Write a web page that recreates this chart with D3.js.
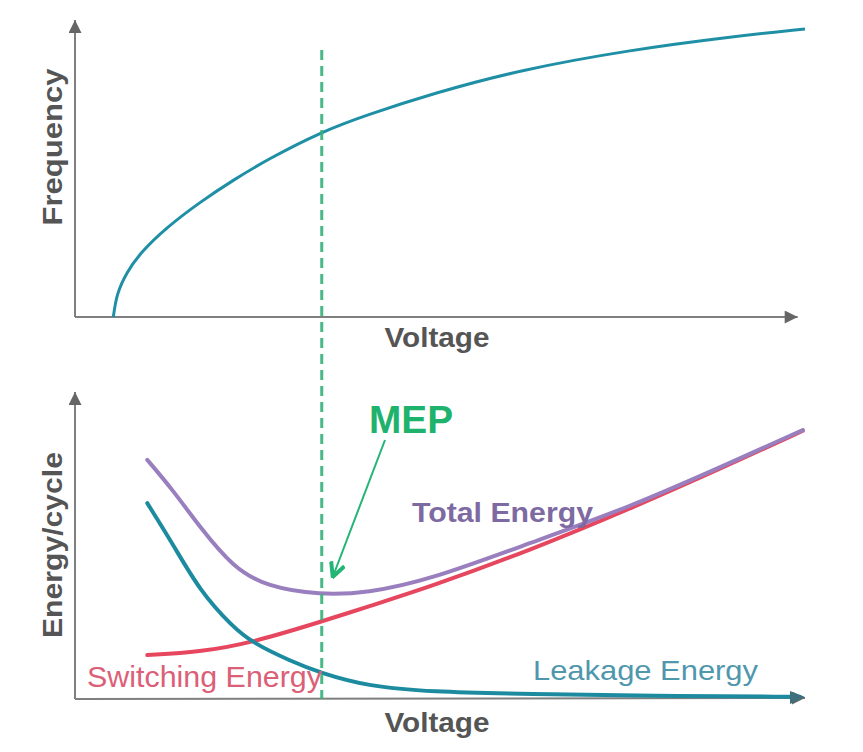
<!DOCTYPE html>
<html>
<head>
<meta charset="utf-8">
<script src="https://cdn.jsdelivr.net/npm/d3@7"></script>
<style>
  html, body { margin: 0; padding: 0; background: #fff; }
  text { font-family: "Liberation Sans", Arial, sans-serif; }
</style>
</head>
<body>
<svg id="chart" width="863" height="752"></svg>
<script>
// voltage runs 0..10 (arbitrary units), both panels share it
const freqVoltage = [0.525, 0.571, 0.708, 0.890, 1.256, 1.712, 2.168, 2.626, 3.379, 3.996, 4.908, 6.096, 7.60, 8.97, 10.0]
const frequency   = [0, 0.79, 1.50, 2.15, 3.02, 3.87, 4.61, 5.29, 6.24, 6.80, 7.53, 8.32, 8.99, 9.43, 9.70]

const totalVoltage = [0.99, 1.34, 1.71, 2.16, 2.63, 3.36, 4.00, 4.86, 6.23, 7.60, 8.97, 9.97]
const totalEnergy  = [7.79, 6.81, 5.60, 4.30, 3.65, 3.39, 3.45, 3.88, 5.08, 6.25, 7.69, 8.76]

const leakVoltage   = [0.99, 1.34, 1.71, 2.16, 2.44, 2.95, 3.36, 4.00, 4.86, 6.23, 7.88, 9.93]
const leakageEnergy = [6.38, 5.05, 3.52, 2.35, 1.82, 1.24, 0.85, 0.42, 0.23, 0.16, 0.10, 0.07]

const switchVoltage   = [0.99, 1.71, 2.40, 3.36, 4.00, 4.86, 6.23, 7.60, 8.97, 9.97]
const switchingEnergy = [1.43, 1.53, 1.82, 2.51, 3.00, 3.65, 4.84, 6.19, 7.64, 8.74]

// minimum energy point
const mepVoltage = 3.38

const svg = d3.select('#chart')

/* scales: x shared, y one per panel */
const x = d3.scaleLinear().domain([0, 10]).range([75, 805])
const yTop = d3.scaleLinear().domain([0, 10]).range([317, 20])
const yBot = d3.scaleLinear().domain([0, 10]).range([699, 392])

const axisColor = '#7f7f7f'

/* arrow heads */
const defs = svg.append('defs')
defs.append('marker')
    .attr('id', 'axisArrow')
    .attr('viewBox', '0 0 10 10')
    .attr('refX', 10).attr('refY', 5)
    .attr('markerUnits', 'userSpaceOnUse')
    .attr('markerWidth', 14).attr('markerHeight', 13)
    .attr('orient', 'auto')
    .append('path')
    .attr('d', 'M0,0L10,5L0,10z')
    .attr('fill', '#666')

defs.append('marker')
    .attr('id', 'mepArrow')
    .attr('viewBox', '0 0 12 12')
    .attr('refX', 11).attr('refY', 6)
    .attr('markerUnits', 'userSpaceOnUse')
    .attr('markerWidth', 17).attr('markerHeight', 17)
    .attr('orient', 'auto')
    .append('path')
    .attr('d', 'M1,1L11,6L1,11')
    .attr('fill', 'none')
    .attr('stroke', '#22b574')
    .attr('stroke-width', 2.8)

/* axes (no ticks, just arrows) */
const axes = [
    [x(0), yTop(0), x(0), yTop(10)],
    [x(0), yTop(0), x(9.9), yTop(0)],
    [x(0), yBot(0), x(0), yBot(10)],
    [x(0), yBot(0), x(10), yBot(0) - 1]
]
svg.selectAll('.axisLine')
    .data(axes)
    .join('line')
    .classed('axisLine', true)
    .attr('x1', d => d[0]).attr('y1', d => d[1])
    .attr('x2', d => d[2]).attr('y2', d => d[3])
    .attr('stroke', axisColor)
    .attr('stroke-width', 2)
    .attr('marker-end', 'url(#axisArrow)')

/* curves */
const zip = (xs, ys) => xs.map((v, i) => [v, ys[i]])
const lineTop = d3.line().x(d => x(d[0])).y(d => yTop(d[1])).curve(d3.curveBasis)
const lineBot = d3.line().x(d => x(d[0])).y(d => yBot(d[1])).curve(d3.curveBasis)

svg.append('path')
    .attr('d', lineTop(zip(freqVoltage, frequency)))
    .attr('fill', 'none')
    .attr('stroke', '#1f8fa6')
    .attr('stroke-width', 3)

svg.append('path')
    .attr('d', lineBot(zip(switchVoltage, switchingEnergy)))
    .attr('fill', 'none')
    .attr('stroke', '#e6475f')
    .attr('stroke-width', 4)
    .attr('stroke-linecap', 'round')

svg.append('path')
    .attr('d', lineBot(zip(leakVoltage, leakageEnergy)))
    .attr('fill', 'none')
    .attr('stroke', '#1c8ba0')
    .attr('stroke-width', 4)
    .attr('stroke-linecap', 'round')

svg.append('path')
    .attr('d', lineBot(zip(totalVoltage, totalEnergy)))
    .attr('fill', 'none')
    .attr('stroke', '#9a7fbf')
    .attr('stroke-width', 4)
    .attr('stroke-linecap', 'round')

/* dark arrow head over the leakage line end */
svg.append('path')
    .attr('d', `M${x(10) - 15},${yBot(0) - 8}L${x(10)},${yBot(0) - 2}L${x(10) - 15},${yBot(0) + 5}z`)
    .attr('fill', '#3d6f7c')

/* MEP dashed line */
svg.append('line')
    .attr('x1', x(mepVoltage)).attr('x2', x(mepVoltage))
    .attr('y1', 50).attr('y2', yBot(0))
    .attr('stroke', '#35b27a')
    .attr('stroke-width', 3)
    .attr('stroke-dasharray', '10,6')
    .attr('opacity', 0.9)

/* MEP arrow */
svg.append('line')
    .attr('x1', 385).attr('y1', 440)
    .attr('x2', x(mepVoltage) + 11).attr('y2', 577)
    .attr('stroke', '#22b574')
    .attr('stroke-width', 2)
    .attr('marker-end', 'url(#mepArrow)')

/* texts */
const labels = [
    {t: 'Voltage', x: 437, y: 347, size: 27, len: 105, w: 'bold', c: '#555', anchor: 'middle'},
    {t: 'Voltage', x: 437, y: 732, size: 27, len: 105, w: 'bold', c: '#555', anchor: 'middle'},
    {t: 'MEP', x: 369, y: 433, size: 39, len: 84, w: 'bold', c: '#1fb26c', anchor: 'start'},
    {t: 'Total Energy', x: 412, y: 522, size: 27, len: 181, w: 'bold', c: '#7e6aa3', anchor: 'start'},
    {t: 'Switching Energy', x: 87, y: 687, size: 29, len: 235, w: 'normal', c: '#dc5f78', anchor: 'start'},
    {t: 'Leakage Energy', x: 533, y: 680, size: 28, len: 225, w: 'normal', c: '#4f97ad', anchor: 'start'}
]
svg.selectAll('.lbl')
    .data(labels)
    .join('text')
    .classed('lbl', true)
    .attr('x', d => d.x).attr('y', d => d.y)
    .attr('text-anchor', d => d.anchor)
    .attr('font-size', d => d.size)
    .attr('font-weight', d => d.w)
    .attr('fill', d => d.c)
    .attr('textLength', d => d.len)
    .attr('lengthAdjust', 'spacingAndGlyphs')
    .text(d => d.t)

const yLabels = [
    {t: 'Frequency', cy: 147, len: 157},
    {t: 'Energy/cycle', cy: 545, len: 186}
]
svg.selectAll('.ylbl')
    .data(yLabels)
    .join('text')
    .classed('ylbl', true)
    .attr('transform', d => `translate(62,${d.cy}) rotate(-90)`)
    .attr('text-anchor', 'middle')
    .attr('font-size', 27)
    .attr('font-weight', 'bold')
    .attr('fill', '#555')
    .attr('textLength', d => d.len)
    .attr('lengthAdjust', 'spacingAndGlyphs')
    .text(d => d.t)
</script>
</body>
</html>
